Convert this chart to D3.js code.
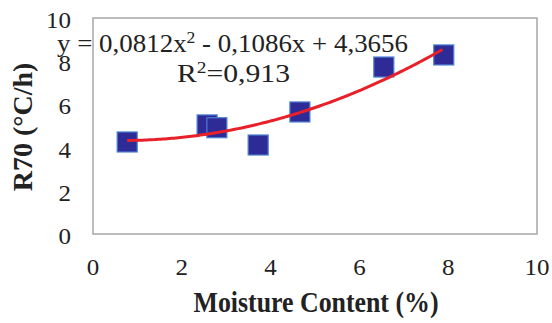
<!DOCTYPE html>
<html>
<head>
<meta charset="UTF-8">
<title>R70 vs moisture</title>
<script src="https://d3js.org/d3.v7.min.js"></script>
<style>
  body { margin: 0; background: #fff; }
  text { font-family: "Liberation Serif", "Times New Roman", serif; fill: #222; }
</style>
</head>
<body>
<div id="chart"></div>
<script>
// data
var moisture = [0.77, 2.57, 2.79, 3.72, 4.66, 6.55, 7.9];
var r70 = [4.26, 5.05, 4.92, 4.12, 5.65, 7.73, 8.29];
var xTicks = [0, 2, 4, 6, 8, 10];
var yTicks = [0, 2, 4, 6, 8, 10];
var coef = [4.3656, -0.1086, 0.0812]; // c, b, a of the trend

var width = 552, height = 323;
var margin = {top: 18, right: 15, bottom: 89, left: 93};

var svg = d3.select("#chart").append("svg")
  .attr("width", width)
  .attr("height", height);

var x = d3.scaleLinear().domain([0, 10]).range([margin.left, width - margin.right]);
var y = d3.scaleLinear().domain([0, 10]).range([height - margin.bottom, margin.top]);

// the source picture is a bit stretched sideways, so glyphs get widened
function digitWidth(d) { return String(d).length * 12.5; }

// plot frame
svg.append("rect")
  .attr("x", x(0)).attr("y", y(10))
  .attr("width", x(10) - x(0)).attr("height", y(0) - y(10))
  .attr("fill", "none").attr("stroke", "#a6a6a6").attr("stroke-width", 1.5);

// tick labels
svg.selectAll(".xt").data(xTicks).enter().append("text")
  .attr("x", function(d) { return x(d); })
  .attr("y", y(0) + 41)
  .attr("text-anchor", "middle")
  .attr("textLength", digitWidth).attr("lengthAdjust", "spacingAndGlyphs")
  .style("font-size", "23px")
  .text(function(d) { return d; });

svg.selectAll(".yt").data(yTicks).enter().append("text")
  .attr("x", x(0) - 22)
  .attr("y", function(d) { return y(d) + 10; })
  .attr("text-anchor", "end")
  .attr("textLength", digitWidth).attr("lengthAdjust", "spacingAndGlyphs")
  .style("font-size", "23px")
  .text(function(d) { return d; });

// markers
var s = 20;
svg.selectAll(".pt").data(moisture).enter().append("rect")
  .attr("x", function(d) { return x(d) - s / 2; })
  .attr("y", function(d, i) { return y(r70[i]) - s / 2; })
  .attr("width", s).attr("height", s)
  .attr("fill", "#2e2a96")
  .attr("stroke", "#4a7fd0").attr("stroke-width", 1.2);

// trend curve
var xs = d3.range(d3.min(moisture), d3.max(moisture) + 0.001, 0.05);
var line = d3.line()
  .x(function(d) { return x(d); })
  .y(function(d) { return y(coef[0] + coef[1] * d + coef[2] * d * d); })
  .curve(d3.curveBasis);
svg.append("path")
  .datum(xs)
  .attr("d", line)
  .attr("fill", "none")
  .attr("stroke", "#e8202a")
  .attr("stroke-width", 3);

// equation
var eq = svg.append("text")
  .attr("x", 57).attr("y", 52)
  .attr("textLength", 351).attr("lengthAdjust", "spacingAndGlyphs")
  .style("font-size", "26px");
eq.append("tspan").text("y = 0,0812x");
eq.append("tspan").attr("dy", -9).style("font-size", "17px").text("2");
eq.append("tspan").attr("dy", 9).text(" - 0,1086x + 4,3656");

var r2 = svg.append("text")
  .attr("x", 177).attr("y", 82)
  .attr("textLength", 113).attr("lengthAdjust", "spacingAndGlyphs")
  .style("font-size", "26px");
r2.append("tspan").text("R");
r2.append("tspan").attr("dy", -9).style("font-size", "17px").text("2");
r2.append("tspan").attr("dy", 9).text("=0,913");

// axis titles
svg.append("text")
  .attr("x", 316)
  .attr("y", 312)
  .attr("text-anchor", "middle")
  .attr("textLength", 245).attr("lengthAdjust", "spacingAndGlyphs")
  .style("font-size", "29px").style("font-weight", "bold")
  .text("Moisture Content (%)");

svg.append("text")
  .attr("transform", "translate(32," + ((y(0) + y(10)) / 2 + 1) + ") rotate(-90)")
  .attr("text-anchor", "middle")
  .style("font-size", "28px").style("font-weight", "bold")
  .text("R70 (°C/h)");
</script>
</body>
</html>
